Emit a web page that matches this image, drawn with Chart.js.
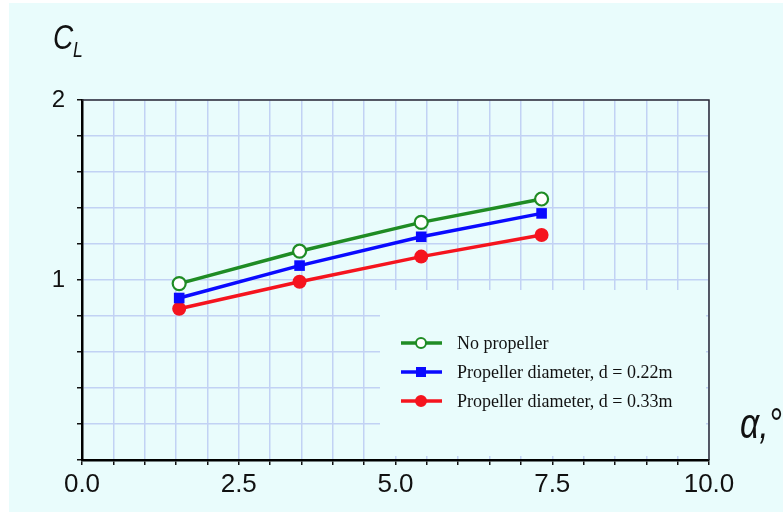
<!DOCTYPE html>
<html>
<head>
<meta charset="utf-8">
<script src="https://cdn.jsdelivr.net/npm/chart.js@4.4.0/dist/chart.umd.min.js"></script>
<style>
html,body{margin:0;padding:0;background:#ffffff;}
#wrap{position:absolute;left:0;top:0;width:783px;height:515px;}
</style>
</head>
<body>
<div id="wrap"><canvas id="c" width="783" height="515"></canvas></div>
<script>
// ---- data ----
const alphaValues = [1.55, 3.47, 5.41, 7.33];
const clNoProp   = [0.98, 1.16, 1.32, 1.45];
const clProp022  = [0.90, 1.08, 1.24, 1.37];
const clProp033  = [0.84, 0.99, 1.13, 1.25];
const seriesNames = ['No propeller', 'Propeller diameter, d = 0.22m', 'Propeller diameter, d = 0.33m'];
const xTickLabels = ['0.0', '2.5', '5.0', '7.5', '10.0'];
const yTickLabels = ['1', '2'];

const BG = '#e9fcfc';
const GRID = '#c2d2f4';
const GREEN = '#1f8c24';
const BLUE = '#0a0aff';
const RED = '#f5141e';

function pts(ys){ return alphaValues.map((x,i)=>({x:x, y:ys[i]})); }

const bgPlugin = {
  id:'bg',
  beforeDraw(chart){
    const ctx = chart.ctx;
    ctx.save();
    ctx.fillStyle = '#ffffff';
    ctx.fillRect(0,0,chart.width,chart.height);
    ctx.fillStyle = BG;
    ctx.fillRect(9,3,chart.width-9,chart.height-6);
    ctx.restore();
  }
};

const legendBox = {x0:380, y0:290, x1:706, y1:456};

const coverPlugin = {
  id:'cover',
  beforeDatasetsDraw(chart){
    const ctx = chart.ctx;
    ctx.save();
    ctx.fillStyle = BG;
    ctx.fillRect(legendBox.x0, legendBox.y0, legendBox.x1-legendBox.x0, legendBox.y1-legendBox.y0);
    ctx.restore();
  }
};

const framePlugin = {
  id:'frame',
  afterDraw(chart){
    const ctx = chart.ctx;
    const a = chart.chartArea;
    ctx.save();
    ctx.strokeStyle = '#2b2b33';
    ctx.lineWidth = 1.5;
    ctx.beginPath();
    ctx.moveTo(a.left, a.top);
    ctx.lineTo(a.right, a.top);
    ctx.lineTo(a.right, a.bottom);
    ctx.stroke();

    // legend
    const ds = chart.data.datasets;
    const rows = [343, 372, 401];
    ctx.font = '18px "Liberation Serif", "Times New Roman", serif';
    ctx.textBaseline = 'middle';
    ds.forEach((d,i)=>{
      const y = rows[i];
      ctx.strokeStyle = d.borderColor;
      ctx.lineWidth = 3.5;
      ctx.beginPath();
      ctx.moveTo(401, y); ctx.lineTo(442, y); ctx.stroke();
      ctx.lineWidth = 2;
      if (d.pointStyle === 'rect') {
        ctx.fillStyle = d.pointBackgroundColor;
        ctx.fillRect(421-5, y-5, 10, 10);
      } else {
        ctx.beginPath();
        ctx.arc(421, y, 5, 0, Math.PI*2);
        ctx.fillStyle = d.pointBackgroundColor;
        ctx.fill();
        ctx.strokeStyle = d.pointBorderColor;
        ctx.stroke();
      }
      ctx.fillStyle = '#111';
      ctx.fillText(d.label, 457, y+1);
    });

    // axis titles
    ctx.fillStyle = '#111';
    ctx.textBaseline = 'alphabetic';
    ctx.save();
    ctx.translate(53, 49);
    ctx.scale(0.8, 1);
    ctx.font = 'italic 35px "Liberation Sans", Arial, sans-serif';
    ctx.fillText('C', 0, 0);
    ctx.restore();
    ctx.save();
    ctx.translate(73, 57);
    ctx.scale(0.8, 1);
    ctx.font = 'italic 22px "Liberation Sans", Arial, sans-serif';
    ctx.fillText('L', 0, 0);
    ctx.restore();
    ctx.save();
    ctx.translate(740, 438);
    ctx.scale(0.8, 1);
    ctx.font = 'italic 42px "Liberation Sans", Arial, sans-serif';
    ctx.fillText('α,°', 0, 0);
    ctx.restore();
    ctx.restore();
  }
};

new Chart(document.getElementById('c'), {
  type:'line',
  data:{
    datasets:[
      {label:seriesNames[0], data:pts(clNoProp), borderColor:GREEN, backgroundColor:GREEN,
       borderWidth:3.5, pointStyle:'circle', pointRadius:6.5, pointBorderWidth:2.2,
       pointBackgroundColor:'#ffffff', pointBorderColor:GREEN, tension:0},
      {label:seriesNames[1], data:pts(clProp022), borderColor:BLUE, backgroundColor:BLUE,
       borderWidth:3.5, pointStyle:'rect', pointRadius:7.5, pointBorderWidth:0,
       pointBackgroundColor:BLUE, pointBorderColor:BLUE, tension:0},
      {label:seriesNames[2], data:pts(clProp033), borderColor:RED, backgroundColor:RED,
       borderWidth:3.5, pointStyle:'circle', pointRadius:7, pointBorderWidth:0,
       pointBackgroundColor:RED, pointBorderColor:RED, tension:0}
    ]
  },
  options:{
    responsive:false,
    animation:false,
    layout:{padding:{left:0, top:100, right:74, bottom:0}},
    plugins:{legend:{display:false}, tooltip:{enabled:false}},
    scales:{
      x:{
        type:'linear', min:0, max:10,
        afterFit(s){ s.height = 55; },
        ticks:{
          stepSize:0.5, autoSkip:false, maxRotation:0, padding:4,
          color:'#111',
          font:{family:'"Liberation Sans", Arial, sans-serif', size:26},
          callback(v){
            const i = Math.round(v/2.5);
            return Math.abs(v - i*2.5) < 1e-6 ? xTickLabels[i] : '';
          }
        },
        grid:{color:GRID, lineWidth:1.5, tickColor:'#111', tickLength:5, tickWidth:1.5},
        border:{color:'#000', width:2.5}
      },
      y:{
        type:'linear', min:0, max:2,
        afterFit(s){ s.width = 82; },
        ticks:{
          stepSize:0.2, autoSkip:false, padding:12,
          color:'#111',
          font:{family:'"Liberation Sans", Arial, sans-serif', size:24},
          callback(v){
            if (Math.abs(v-1) < 1e-6) return yTickLabels[0];
            if (Math.abs(v-2) < 1e-6) return yTickLabels[1];
            return '';
          }
        },
        grid:{color:GRID, lineWidth:1.5, tickColor:'#111', tickLength:5, tickWidth:1.5},
        border:{color:'#000', width:2.5}
      }
    }
  },
  plugins:[bgPlugin, coverPlugin, framePlugin]
});
</script>
</body>
</html>
